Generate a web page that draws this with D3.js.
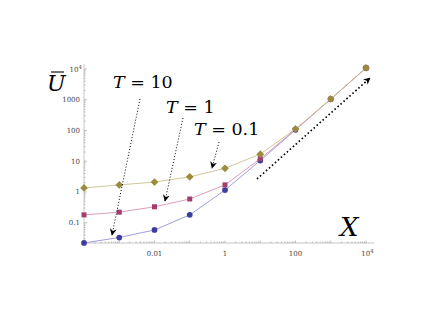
<!DOCTYPE html>
<html>
<head>
<meta charset="utf-8">
<script src="https://cdn.jsdelivr.net/npm/d3@7"></script>
<style>
body { margin: 0; background: #fff; }
</style>
</head>
<body>
<svg></svg>
<script>
// data
var xVals = [1e-4, 1e-3, 0.01, 0.1, 1, 10, 100, 1000, 1e4];
var t01 = [0.022, 0.033, 0.058, 0.18, 1.15, 10.5, 105, 1050, 10800];
var t1 = [0.18, 0.22, 0.33, 0.59, 1.7, 12, 108, 1050, 10800];
var t10 = [1.35, 1.7, 2.1, 3.1, 5.9, 17, 112, 1060, 10800];
var xTicks = [0.01, 1, 100, 1e4];
var yTicks = [0.1, 1, 10, 100, 1000, 1e4];
var tickLabel = {0.01: '0.01', 0.1: '0.1', 1: '1', 10: '10', 100: '100', 1000: '1000'};

var width = 436, height = 327;
var serif = "'DejaVu Serif', 'Liberation Serif', serif";
var svg = d3.select('svg').attr('width', width).attr('height', height)
    .style('font-family', serif);

var x = d3.scaleLog().domain([1e-4, 1e4]).range([84, 366]);
var y = d3.scaleLog().domain([Math.pow(10, -1.66), 1e4]).range([243, 69]);

var axisCol = '#b8b8b8';

// minor ticks
var minorX = [], minorY = [];
for (var e = -4; e < 4; e++) for (var m = 2; m < 10; m++) minorX.push(m * Math.pow(10, e));
for (var e2 = -2; e2 < 4; e2++) for (var m2 = 2; m2 < 10; m2++) {
    var v = m2 * Math.pow(10, e2);
    if (v >= y.domain()[0]) minorY.push(v);
}

var axes = svg.append('g');
axes.append('line').attr('x1', 84).attr('x2', 374).attr('y1', 243).attr('y2', 243)
    .attr('stroke', axisCol).attr('stroke-width', 0.8);
axes.append('line').attr('x1', 84).attr('x2', 84).attr('y1', 243).attr('y2', 64)
    .attr('stroke', axisCol).attr('stroke-width', 0.8);

axes.selectAll('.mx').data(minorX).enter().append('line')
    .attr('x1', d => x(d)).attr('x2', d => x(d)).attr('y1', 243).attr('y2', 241.5)
    .attr('stroke', '#999').attr('stroke-width', 0.6);
axes.selectAll('.dx').data(xVals).enter().append('line')
    .attr('x1', d => x(d)).attr('x2', d => x(d)).attr('y1', 243).attr('y2', 240.5)
    .attr('stroke', '#999').attr('stroke-width', 0.6);
axes.selectAll('.my').data(minorY).enter().append('line')
    .attr('y1', d => y(d)).attr('y2', d => y(d)).attr('x1', 84).attr('x2', 85.5)
    .attr('stroke', '#999').attr('stroke-width', 0.6);
axes.selectAll('.dy').data(yTicks).enter().append('line')
    .attr('y1', d => y(d)).attr('y2', d => y(d)).attr('x1', 84).attr('x2', 87)
    .attr('stroke', '#999').attr('stroke-width', 0.6);

function labelText(sel) {
    sel.each(function(d) {
        var t = d3.select(this);
        if (d === 1e4) {
            t.text('10');
            t.append('tspan').attr('dy', -3).attr('font-size', 5.5).text('4');
        } else {
            t.text(tickLabel[d]);
        }
    });
}

axes.selectAll('.lx').data(xTicks).enter().append('text')
    .attr('x', d => x(d) + (d === 1e4 ? 1.5 : 0)).attr('y', 256)
    .attr('text-anchor', 'middle').attr('font-size', 7).attr('fill', '#444')
    .call(labelText);
axes.selectAll('.ly').data(yTicks).enter().append('text')
    .attr('x', d => d === 1e4 ? 82 : 80).attr('y', d => y(d) + 2.5)
    .attr('text-anchor', 'end').attr('font-size', 7).attr('fill', '#444')
    .call(labelText);

// series
var diamond = {draw: function(ctx, size) {
    var r = Math.sqrt(size / 2);
    ctx.moveTo(0, -r); ctx.lineTo(r, 0); ctx.lineTo(0, r); ctx.lineTo(-r, 0); ctx.closePath();
}};
var series = [
    {vals: t01, line: '#9494d6', mark: '#3d3d9c', shape: d3.symbolCircle, size: 26},
    {vals: t1, line: '#d993b3', mark: '#a23d6f', shape: d3.symbolSquare, size: 25},
    {vals: t10, line: '#cdbf8e', mark: '#9b8b3c', shape: diamond, size: 30}
];

var line = d3.line().x(d => x(d[0])).y(d => y(d[1]));

series.forEach(s => {
    var pts = xVals.map((xv, i) => [xv, s.vals[i]]);
    var g = svg.append('g');
    g.append('path').attr('d', line(pts)).attr('fill', 'none')
        .attr('stroke', s.line).attr('stroke-width', 0.9);
    g.selectAll('path.pt').data(pts).enter().append('path')
        .classed('pt', true)
        .attr('transform', d => `translate(${x(d[0])},${y(d[1])})`)
        .attr('d', d3.symbol().type(s.shape).size(s.size))
        .attr('fill', s.mark);
});

// annotations
var defs = svg.append('defs');
defs.append('marker').attr('id', 'ah').attr('viewBox', '0 0 10 10')
    .attr('refX', 9).attr('refY', 5).attr('markerWidth', 7).attr('markerHeight', 7)
    .attr('markerUnits', 'userSpaceOnUse').attr('orient', 'auto')
    .append('path').attr('d', 'M0,0 L10,5 L0,10 L3,5 Z').attr('fill', '#000');

var arrows = [
    {x1: 140, y1: 99, x2: 112, y2: 235, w: 1, dash: '1,2'},
    {x1: 183, y1: 118, x2: 165, y2: 201, w: 1, dash: '1,2'},
    {x1: 219, y1: 142, x2: 212, y2: 168, w: 1, dash: '1,2'},
    {x1: 257, y1: 179, x2: 370, y2: 78, w: 1.6, dash: '1.6,2.4'}
];
svg.selectAll('.arr').data(arrows).enter().append('line')
    .attr('x1', d => d.x1).attr('y1', d => d.y1).attr('x2', d => d.x2).attr('y2', d => d.y2)
    .attr('stroke', '#000').attr('stroke-width', d => d.w).attr('stroke-dasharray', d => d.dash)
    .attr('marker-end', 'url(#ah)');

function mathLabel(px, py, size, rest) {
    var t = svg.append('text').attr('x', px).attr('y', py).attr('font-size', size).attr('fill', '#000');
    t.append('tspan').attr('font-style', 'italic').text('T');
    t.append('tspan').text(rest);
}
mathLabel(113, 88, 17.5, ' = 10');
mathLabel(166, 113, 17.5, ' = 1');
mathLabel(194, 135, 17.5, ' = 0.1');

svg.append('text').attr('x', 47).attr('y', 91).attr('font-size', 22)
    .attr('font-style', 'italic').text('U');
svg.append('line').attr('x1', 51).attr('x2', 64).attr('y1', 72).attr('y2', 72)
    .attr('stroke', '#000').attr('stroke-width', 1.1);

svg.append('text').attr('x', 340).attr('y', 236).attr('font-size', 26)
    .attr('font-style', 'italic').text('X');
</script>
</body>
</html>
